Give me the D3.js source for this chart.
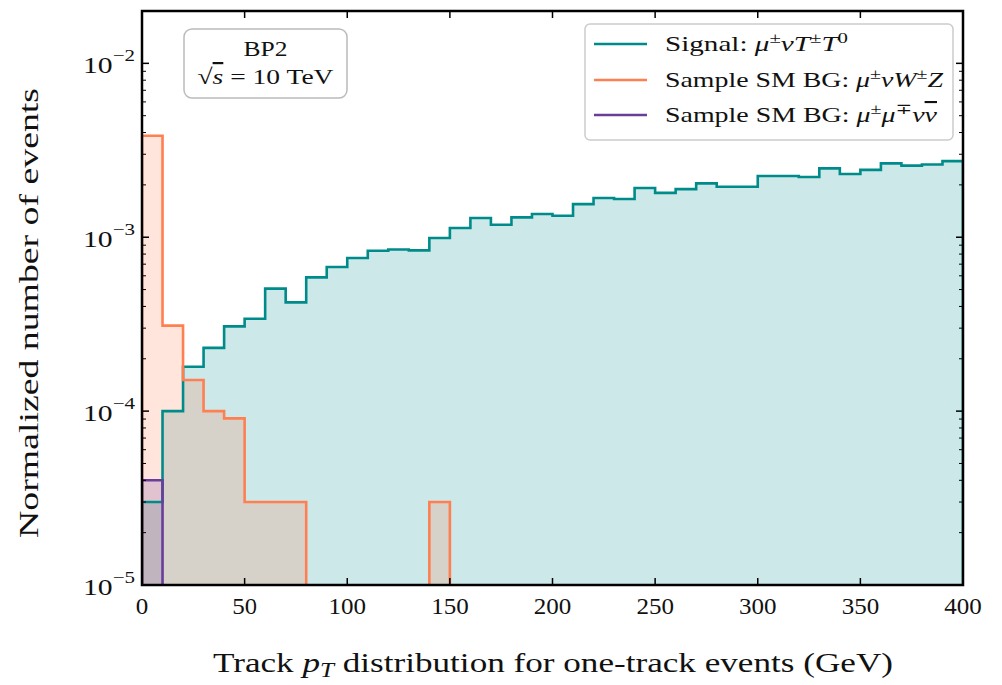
<!DOCTYPE html>
<html><head><meta charset="utf-8">
<script src="https://cdn.jsdelivr.net/npm/d3@7"></script>
<style>
html,body{margin:0;padding:0;background:#fff;}
svg text{font-family:"Liberation Serif","DejaVu Serif",serif;fill:#111;}
</style></head>
<body>
<svg id="chart" width="1002" height="685"></svg>
<script>
// ---- data ----
const binWidth = 10;
const binStarts = d3.range(0, 400, binWidth);
const signal = [3.0e-5, 1.0e-4, 1.8e-4, 2.31e-4, 3.07e-4, 3.40e-4, 5.06e-4, 4.22e-4, 5.88e-4, 6.74e-4,
  7.59e-4, 8.36e-4, 8.5e-4, 8.4e-4, 9.9e-4, 1.13e-3, 1.29e-3, 1.18e-3, 1.30e-3, 1.36e-3,
  1.33e-3, 1.55e-3, 1.68e-3, 1.66e-3, 1.92e-3, 1.80e-3, 1.89e-3, 2.04e-3, 1.95e-3, 1.95e-3,
  2.25e-3, 2.25e-3, 2.22e-3, 2.49e-3, 2.31e-3, 2.44e-3, 2.66e-3, 2.58e-3, 2.62e-3, 2.74e-3];
const bgWZ = [3.83e-3, 3.10e-4, 1.51e-4, 1.0e-4, 9.08e-5, 3.0e-5, 3.0e-5, 3.0e-5, 0, 0,
  0, 0, 0, 0, 3.0e-5, 0, 0, 0, 0, 0,
  0, 0, 0, 0, 0, 0, 0, 0, 0, 0,
  0, 0, 0, 0, 0, 0, 0, 0, 0, 0];
const bgMuMu = [4.0e-5, 0, 0, 0, 0, 0, 0, 0, 0, 0,
  0, 0, 0, 0, 0, 0, 0, 0, 0, 0,
  0, 0, 0, 0, 0, 0, 0, 0, 0, 0,
  0, 0, 0, 0, 0, 0, 0, 0, 0, 0];
const xTicks = [0, 50, 100, 150, 200, 250, 300, 350, 400];
const yTickExps = [-5, -4, -3, -2];
const seriesNames = ["signal", "wz", "mumu"];

// ---- layout ----
const svg = d3.select("#chart");
const L = 142, R = 963, T = 11, B = 585;
const x = d3.scaleLinear().domain([0, 400]).range([L, R]);
const y = d3.scaleLog().domain([1e-5, 2e-2]).range([B, T]);
const colors = {signal: "#008b8b", wz: "#ff7f50", mumu: "#6a3d9a"};
const dataMap = {signal: signal, wz: bgWZ, mumu: bgMuMu};

svg.append("defs").append("clipPath").attr("id", "clip")
  .append("rect").attr("x", L).attr("y", T).attr("width", R - L).attr("height", B - T);

const yv = v => v > 0 ? y(v) : B + 20;
function pts(vals) {
  const p = binStarts.map((s, i) => [x(s), yv(vals[i])]);
  p.push([x(binStarts[binStarts.length - 1] + binWidth), yv(vals[vals.length - 1])]);
  return p;
}
const area = d3.area().x(d => d[0]).y0(B + 20).y1(d => d[1]).curve(d3.curveStepAfter);
const line = d3.line().x(d => d[0]).y(d => d[1]).curve(d3.curveStepAfter);

const g = svg.append("g").attr("clip-path", "url(#clip)");
seriesNames.forEach(n => {
  const p = pts(dataMap[n]);
  g.append("path").attr("d", area(p)).attr("fill", colors[n]).attr("fill-opacity", 0.2).attr("stroke", "none");
});
seriesNames.forEach(n => {
  const p = pts(dataMap[n]);
  const full = [[p[0][0], B + 20]].concat(p).concat([[p[p.length - 1][0], B + 20]]);
  g.append("path").attr("d", line(full)).attr("fill", "none")
    .attr("stroke", colors[n]).attr("stroke-width", 2.6).attr("stroke-linejoin", "miter");
});

// ---- axes ----
const axG = svg.append("g");
xTicks.forEach(t => {
  axG.append("line").attr("x1", x(t)).attr("x2", x(t)).attr("y1", B).attr("y2", B - 7).attr("stroke", "#000").attr("stroke-width", 1.5);
  axG.append("line").attr("x1", x(t)).attr("x2", x(t)).attr("y1", T).attr("y2", T + 7).attr("stroke", "#000").attr("stroke-width", 1.5);
  const s = String(t);
  axG.append("text").attr("x", x(t)).attr("y", B + 29).attr("text-anchor", "middle")
    .attr("font-size", 24).attr("textLength", s.length * 12.5).attr("lengthAdjust", "spacingAndGlyphs").text(s);
});
yTickExps.forEach(e => {
  const v = Math.pow(10, e);
  const yy = y(v);
  axG.append("line").attr("x1", L).attr("x2", L + 7).attr("y1", yy).attr("y2", yy).attr("stroke", "#000").attr("stroke-width", 1.5);
  axG.append("line").attr("x1", R).attr("x2", R - 7).attr("y1", yy).attr("y2", yy).attr("stroke", "#000").attr("stroke-width", 1.5);
  const tx = axG.append("text").attr("x", L - 7).attr("y", yy + 10).attr("text-anchor", "end").attr("font-size", 24)
    .attr("textLength", 52).attr("lengthAdjust", "spacingAndGlyphs");
  tx.append("tspan").text("10");
  tx.append("tspan").attr("dy", -12).attr("font-size", 17).text("\u2212" + Math.abs(e));
  for (let m = 2; m <= 9; m++) {
    const mv = m * v;
    if (mv > 2e-2) break;
    const my = y(mv);
    axG.append("line").attr("x1", L).attr("x2", L + 4).attr("y1", my).attr("y2", my).attr("stroke", "#000").attr("stroke-width", 1);
    axG.append("line").attr("x1", R).attr("x2", R - 4).attr("y1", my).attr("y2", my).attr("stroke", "#000").attr("stroke-width", 1);
  }
});
axG.append("rect").attr("x", L).attr("y", T).attr("width", R - L).attr("height", B - T)
  .attr("fill", "none").attr("stroke", "#000").attr("stroke-width", 2.5);

// axis labels
svg.append("text").attr("x", 553).attr("y", 672).attr("text-anchor", "middle").attr("font-size", 28)
  .attr("textLength", 680).attr("lengthAdjust", "spacingAndGlyphs")
  .call(t => {
    t.append("tspan").text("Track ");
    t.append("tspan").attr("font-style", "italic").text("p");
    t.append("tspan").attr("font-style", "italic").attr("font-size", 20).attr("dy", 5).text("T");
    t.append("tspan").attr("dy", -5).text(" distribution for one-track events (GeV)");
  });
svg.append("text").attr("transform", "translate(38,313) rotate(-90)").attr("text-anchor", "middle").attr("font-size", 28)
  .attr("textLength", 450).attr("lengthAdjust", "spacingAndGlyphs")
  .text("Normalized number of events");

// BP2 text box
svg.append("rect").attr("x", 184).attr("y", 29).attr("width", 163).attr("height", 69).attr("rx", 8)
  .attr("fill", "#fff").attr("fill-opacity", 0.8).attr("stroke", "#bbb").attr("stroke-width", 1.5);
svg.append("text").attr("x", 265.5).attr("y", 56).attr("text-anchor", "middle").attr("font-size", 22)
  .attr("textLength", 44).attr("lengthAdjust", "spacingAndGlyphs").text("BP2");
svg.append("text").attr("x", 265.5).attr("y", 84).attr("text-anchor", "middle").attr("font-size", 22)
  .attr("textLength", 136).attr("lengthAdjust", "spacingAndGlyphs")
  .call(t => {
    t.append("tspan").text("\u221A");
    t.append("tspan").attr("font-style", "italic").attr("text-decoration", "overline").text("s");
    t.append("tspan").text(" = 10 TeV");
  });

// legend
const lg = svg.append("g");
lg.append("rect").attr("x", 585).attr("y", 24).attr("width", 368).attr("height", 116).attr("rx", 5)
  .attr("fill", "#fff").attr("fill-opacity", 0.8).attr("stroke", "#ccc").attr("stroke-width", 1.5);
const legendRows = [
  {n: "signal", y: 44, w: 183, parts: [["Signal: ", 0], ["\u03BC", 1], ["\u00B1", 2], ["\u03BD", 1], ["T", 1], ["\u00B1", 2], ["T", 1], ["0", 2]]},
  {n: "wz", y: 80, w: 278, parts: [["Sample SM BG: ", 0], ["\u03BC", 1], ["\u00B1", 2], ["\u03BD", 1], ["W", 1], ["\u00B1", 2], ["Z", 1]]},
  {n: "mumu", y: 115, w: 272, parts: [["Sample SM BG: ", 0], ["\u03BC", 1], ["\u00B1", 2], ["\u03BC", 1], ["\u2213", 2], ["\u03BD", 1], ["\u03BD", 3]]}
];
legendRows.forEach(r => {
  lg.append("line").attr("x1", 594).attr("x2", 647).attr("y1", r.y).attr("y2", r.y)
    .attr("stroke", colors[r.n]).attr("stroke-width", 2.6);
  const t = lg.append("text").attr("x", 665).attr("y", r.y + 7).attr("font-size", 21)
    .attr("textLength", r.w).attr("lengthAdjust", "spacingAndGlyphs");
  let sup = false;
  r.parts.forEach(([s, k]) => {
    const ts = t.append("tspan").text(s);
    if (k === 1 || k === 3) ts.attr("font-style", "italic");
    if (k === 3) ts.attr("text-decoration", "overline");
    if (k === 2) {
      ts.attr("font-size", 15);
      if (!sup) { ts.attr("dy", -8); sup = true; }
    } else if (sup) { ts.attr("dy", 8); sup = false; }
  });
});
</script>
</body></html>
